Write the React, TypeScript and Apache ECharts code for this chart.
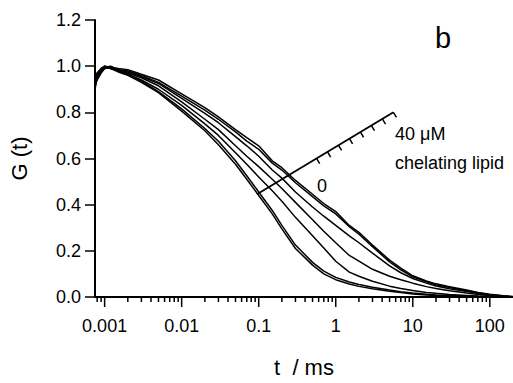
import React, { useEffect, useRef } from 'react';
import * as echarts from 'echarts';

const FONT = '"Liberation Sans", Arial, Helvetica, sans-serif';

// lag time t (ms)
const tValues = [0.00075, 0.0008, 0.0009, 0.001, 0.0012, 0.0015, 0.002, 0.003, 0.005, 0.01, 0.02, 0.03, 0.05, 0.07, 0.1, 0.15, 0.2, 0.3, 0.5, 0.7, 1, 1.5, 2, 3, 5, 7, 10, 15, 20, 30, 50, 70, 100, 150, 200];

// normalised autocorrelation curves G(t), from 40 µM (slowest) down to 0 (fastest)
const curveE1 = [0.93, 0.96, 0.98, 1.0, 0.995, 0.99, 0.985, 0.965, 0.94, 0.88, 0.82, 0.78, 0.725, 0.69, 0.655, 0.59, 0.56, 0.505, 0.445, 0.405, 0.37, 0.31, 0.28, 0.225, 0.16, 0.125, 0.092, 0.07, 0.057, 0.045, 0.03, 0.02, 0.012, 0.005, 0.002];
const curveE2 = [0.91, 0.95, 0.99, 0.995, 1.0, 0.985, 0.98, 0.96, 0.93, 0.87, 0.81, 0.77, 0.715, 0.675, 0.64, 0.58, 0.55, 0.495, 0.435, 0.395, 0.36, 0.305, 0.272, 0.218, 0.152, 0.118, 0.087, 0.066, 0.053, 0.041, 0.027, 0.018, 0.01, 0.004, 0.001];
const curveD = [0.92, 0.97, 0.985, 1.0, 0.99, 0.985, 0.975, 0.955, 0.925, 0.86, 0.795, 0.755, 0.695, 0.655, 0.61, 0.55, 0.515, 0.455, 0.39, 0.35, 0.31, 0.265, 0.235, 0.19, 0.135, 0.105, 0.08, 0.06, 0.048, 0.036, 0.024, 0.016, 0.009, 0.004, 0.001];
const curveC = [0.94, 0.965, 0.985, 0.995, 0.99, 0.98, 0.97, 0.95, 0.915, 0.845, 0.77, 0.725, 0.655, 0.61, 0.565, 0.51, 0.47, 0.41, 0.335, 0.285, 0.235, 0.18, 0.155, 0.12, 0.09, 0.075, 0.06, 0.045, 0.037, 0.027, 0.017, 0.011, 0.006, 0.002, 0.0];
const curveB = [0.9, 0.95, 0.975, 0.99, 0.995, 0.98, 0.965, 0.94, 0.9, 0.83, 0.75, 0.7, 0.625, 0.575, 0.52, 0.46, 0.415, 0.345, 0.265, 0.212, 0.155, 0.108, 0.09, 0.068, 0.047, 0.037, 0.028, 0.02, 0.016, 0.011, 0.007, 0.004, 0.002, 0.001, 0.0];
const curveA1 = [0.92, 0.94, 0.97, 0.99, 0.995, 0.98, 0.965, 0.935, 0.89, 0.815, 0.73, 0.675, 0.59, 0.525, 0.455, 0.375, 0.31, 0.225, 0.15, 0.112, 0.085, 0.065, 0.054, 0.042, 0.03, 0.023, 0.017, 0.012, 0.009, 0.006, 0.003, 0.002, 0.001, 0.0, 0.0];
const curveA2 = [0.95, 0.97, 0.99, 1.0, 0.99, 0.975, 0.96, 0.93, 0.885, 0.805, 0.72, 0.66, 0.575, 0.51, 0.44, 0.36, 0.295, 0.21, 0.138, 0.1, 0.075, 0.056, 0.046, 0.036, 0.025, 0.019, 0.013, 0.009, 0.007, 0.004, 0.002, 0.001, 0.0, 0.0, 0.0];

const curves = [curveE1, curveE2, curveD, curveC, curveB, curveA1, curveA2];

// x axis tick marks
const majorTicks = [0.001, 0.01, 0.1, 1, 10, 100];
const minorMultipliers = [2, 3, 4, 5, 6, 7, 8, 9];
const yTickLabels = ['0.0', '0.2', '0.4', '0.6', '0.8', '1.0', '1.2'];

// concentration scale annotation (data coords of its ends), and tick count
const annotStart = [0.095, 0.445];
const annotEnd = [5.6, 0.8];
const annotTickFrom = 0.437;
const annotTickCount = 8;

function fmtLog(v: number) {
  return String(Number(v.toPrecision(6)));
}

export default function App() {
  const ref = useRef<HTMLDivElement>(null);

  useEffect(() => {
    const chart = echarts.init(ref.current!, null, { renderer: 'svg' });

    const minorTicks: number[] = [0.0008, 0.0009];
    majorTicks.forEach((m) => minorMultipliers.forEach((k) => {
      const v = Number((m * k).toPrecision(6));
      if (v < 200) minorTicks.push(v);
    }));
    const tickData = [
      ...majorTicks.map((t) => [t, 10]),
      ...minorTicks.map((t) => [t, 5]),
    ];

    const lt0 = Math.log10(annotStart[0]);
    const lt1 = Math.log10(annotEnd[0]);
    const annotTicks: number[][] = [];
    for (let k = 0; k < annotTickCount; k++) {
      const f = annotTickFrom + (k * (1 - annotTickFrom)) / (annotTickCount - 1);
      annotTicks.push([Math.pow(10, lt0 + (lt1 - lt0) * f), annotStart[1] + (annotEnd[1] - annotStart[1]) * f]);
    }

    const curveSeries = curves.map((c, idx) => ({
      type: 'line',
      name: 'c' + idx,
      data: tValues.map((t, i) => [t, c[i]]),
      showSymbol: false,
      symbol: 'none',
      silent: true,
      lineStyle: { color: '#000', width: 1.5 },
      z: 3,
    }));

    chart.setOption({
      animation: false,
      backgroundColor: '#fff',
      grid: { left: 87, right: 0, top: 20, bottom: 69, containLabel: false },
      xAxis: {
        type: 'log',
        logBase: 10,
        min: 0.00075,
        max: 200,
        name: 't  / ms',
        nameLocation: 'middle',
        nameGap: 59,
        nameTextStyle: { fontSize: 22, color: '#000', fontFamily: FONT },
        axisLine: { lineStyle: { color: '#000', width: 2 } },
        axisTick: { show: false },
        minorTick: { show: false },
        splitLine: { show: false },
        axisLabel: {
          color: '#000',
          fontSize: 18,
          fontFamily: FONT,
          margin: 20,
          showMinLabel: false,
          showMaxLabel: false,
          formatter: (v: number) => fmtLog(v),
        },
      },
      yAxis: {
        type: 'value',
        min: 0,
        max: 1.2,
        interval: 0.2,
        name: 'G (t)',
        nameLocation: 'middle',
        nameGap: 65,
        nameRotate: 90,
        nameTextStyle: { fontSize: 22, color: '#000', fontFamily: FONT },
        axisLine: { show: true, lineStyle: { color: '#000', width: 2 } },
        axisTick: { show: true, length: 10, lineStyle: { color: '#000', width: 1.5 } },
        splitLine: { show: false },
        axisLabel: {
          color: '#000',
          fontSize: 18,
          fontFamily: FONT,
          margin: 14,
          formatter: (v: number) => yTickLabels[Math.round(v / 0.2)] ?? v.toFixed(1),
        },
      },
      series: [
        ...curveSeries,
        {
          type: 'custom',
          name: 'xticks',
          silent: true,
          clip: false,
          data: tickData,
          encode: { x: 0 },
          renderItem: (params: any, api: any) => {
            const p = api.coord([api.value(0), 0]);
            const len = api.value(1);
            return {
              type: 'line',
              shape: { x1: p[0], y1: p[1], x2: p[0], y2: p[1] + len },
              style: { stroke: '#000', lineWidth: 1.5 },
            };
          },
          z: 2,
        },
        {
          type: 'line',
          name: 'scale',
          data: [annotStart, annotEnd],
          showSymbol: false,
          symbol: 'none',
          silent: true,
          lineStyle: { color: '#000', width: 1.8 },
          z: 4,
        },
        {
          type: 'custom',
          name: 'scaleTicks',
          silent: true,
          clip: false,
          data: annotTicks,
          renderItem: (params: any, api: any) => {
            const s = api.coord(annotStart);
            const e = api.coord(annotEnd);
            const dx = e[0] - s[0];
            const dy = e[1] - s[1];
            const L = Math.hypot(dx, dy);
            const nx = -dy / L;
            const ny = dx / L;
            const p = api.coord([api.value(0), api.value(1)]);
            const len = 6;
            return {
              type: 'line',
              shape: { x1: p[0], y1: p[1], x2: p[0] + nx * len, y2: p[1] + ny * len },
              style: { stroke: '#000', lineWidth: 1.5 },
            };
          },
          z: 4,
        },
      ],
      graphic: [
        {
          type: 'text',
          x: 443,
          y: 38,
          style: { text: 'b', fill: '#000', fontSize: 29, fontFamily: FONT, textAlign: 'center', textVerticalAlign: 'middle' },
        },
        {
          type: 'text',
          x: 322,
          y: 185.5,
          style: { text: '0', fill: '#000', fontSize: 18, fontFamily: FONT, textAlign: 'center', textVerticalAlign: 'middle' },
        },
        {
          type: 'text',
          x: 395,
          y: 133.5,
          style: { text: '40 \u03bcM', fill: '#000', fontSize: 18, fontFamily: FONT, textAlign: 'left', textVerticalAlign: 'middle' },
        },
        {
          type: 'text',
          x: 395,
          y: 163,
          style: { text: 'chelating lipid', fill: '#000', fontSize: 18, fontFamily: FONT, textAlign: 'left', textVerticalAlign: 'middle' },
        },
      ],
    });

    return () => chart.dispose();
  }, []);

  return <div ref={ref} style={{ position: 'fixed', left: 0, top: 0, width: 513, height: 383 }} />;
}
